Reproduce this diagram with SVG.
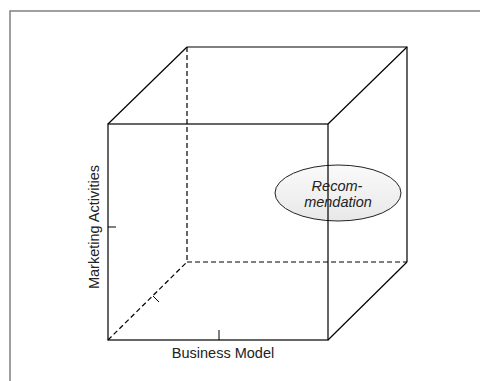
<svg xmlns="http://www.w3.org/2000/svg" width="480" height="381" viewBox="0 0 480 381">
  <defs>
    <linearGradient id="ellGrad" x1="0" y1="0" x2="0" y2="1">
      <stop offset="0" stop-color="#fafafa"/>
      <stop offset="1" stop-color="#e8e8e8"/>
    </linearGradient>
  </defs>
  <style>
    .edge { stroke: #000; stroke-width: 1.2; fill: none; }
    .hidden { stroke: #000; stroke-width: 1.2; fill: none; stroke-dasharray: 5 3; }
    .tick { stroke: #000; stroke-width: 1; fill: none; }
    .label { font-family: "Liberation Sans", Arial, sans-serif; font-size: 14.5px; fill: #222; }
    .ital { font-style: italic; text-anchor: middle; }
  </style>
  <rect x="0" y="0" width="480" height="381" fill="#ffffff"/>
  <rect id="frame" x="10" y="11" width="480" height="380" fill="none" stroke="#808080" stroke-width="1.5"/>

  <g id="recommendation">
    <ellipse cx="338" cy="193" rx="63" ry="28" fill="url(#ellGrad)" stroke="#222" stroke-width="1"/>
  </g>

  <g id="connectors">
    <line class="hidden" x1="187" y1="47" x2="187" y2="262"/>
    <line class="hidden" x1="187" y1="262" x2="407" y2="262"/>
    <line class="hidden" x1="108" y1="340" x2="187" y2="262"/>
    <polyline class="edge" points="187,47 407,47 407,262"/>
    <rect class="edge" x="108" y="124" width="220" height="216"/>
    <line class="edge" x1="108" y1="124" x2="187" y2="47"/>
    <line class="edge" x1="328" y1="124" x2="407" y2="47"/>
    <line class="edge" x1="328" y1="340" x2="407" y2="262"/>
    <line class="tick" x1="108" y1="227" x2="116" y2="227"/>
    <line class="tick" x1="219" y1="330" x2="219" y2="340"/>
    <line class="tick" x1="153" y1="296" x2="159" y2="302"/>
  </g>

  <g id="recommendation-label">
    <text class="label ital" x="337" y="191">Recom-</text>
    <text class="label ital" x="338" y="207">mendation</text>
  </g>

  <g id="axis-business-model">
    <text class="label" x="223" y="358" text-anchor="middle">Business Model</text>
  </g>

  <g id="axis-marketing-activities">
    <text class="label" x="0" y="0" text-anchor="middle" transform="translate(99,227) rotate(-90)">Marketing Activities</text>
  </g>
</svg>
